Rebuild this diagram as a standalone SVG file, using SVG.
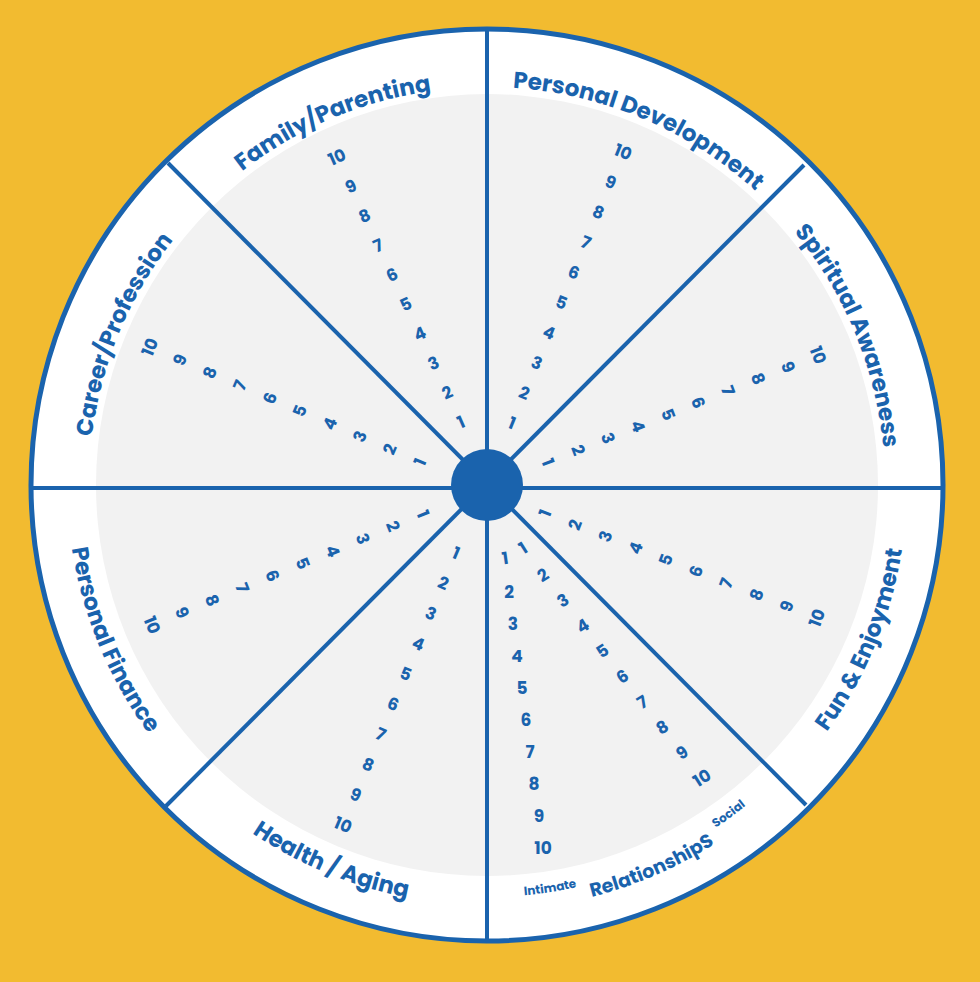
<svg xmlns="http://www.w3.org/2000/svg" width="980" height="982" viewBox="0 0 980 982">
<style>
.n{font-family:Poppins,"Inter","Noto Sans",sans-serif;font-weight:700;font-size:17px;fill:#1a63ad;text-anchor:middle;dominant-baseline:central}
.l{font-family:Poppins,"Inter","Noto Sans",sans-serif;font-weight:700;font-size:23px;fill:#1a63ad;text-anchor:middle}
.r{font-family:Poppins,"Inter","Noto Sans",sans-serif;font-weight:700;font-size:19px;fill:#1a63ad;text-anchor:middle}
.s{font-family:Poppins,"Inter","Noto Sans",sans-serif;font-weight:700;font-size:12px;fill:#1a63ad;text-anchor:middle}
.ln{stroke:#1a63ad;stroke-width:4;fill:none}
</style>
<defs>
<path id="cw" d="M 89 485 A 398 398 0 1 1 885 485 A 398 398 0 1 1 89 485"/>
<path id="ccw" d="M 67 485 A 420 420 0 1 0 907 485 A 420 420 0 1 0 67 485"/>
<path id="ccw2" d="M 75 485 A 412 412 0 1 0 899 485 A 412 412 0 1 0 75 485"/>
<path id="ccw3" d="M 62 485 A 425 425 0 1 0 912 485 A 425 425 0 1 0 62 485"/>
</defs>
<rect width="980" height="982" fill="#f2bb30"/>
<circle cx="487" cy="485" r="456" fill="#fff" stroke="#1a63ad" stroke-width="5"/>
<circle cx="487" cy="485" r="391" fill="#f2f2f2"/>
<g id="connectors">
<line class="ln" x1="487" y1="31" x2="487" y2="939"/>
<line class="ln" x1="33" y1="488" x2="941" y2="488"/>
<line class="ln" x1="168" y1="163" x2="806" y2="805"/>
<line class="ln" x1="804" y1="165" x2="166" y2="806"/>
</g>
<circle id="hub" cx="487" cy="485" r="36" fill="#1a63ad"/>
<g id="labels">
<text class="l"><textPath href="#cw" startOffset="465">Family/Parenting</textPath></text>
<text class="l"><textPath href="#cw" startOffset="785">Personal Development</textPath></text>
<text class="l"><textPath href="#cw" startOffset="1093.9">Spiritual Awareness</textPath></text>
<text class="l"><textPath href="#cw" startOffset="156.3">Career/Profession</textPath></text>
<text class="l"><textPath href="#ccw" startOffset="1154.6">Fun &amp; Enjoyment</textPath></text>
<text class="l"><textPath href="#ccw" startOffset="164.9">Personal Finance</textPath></text>
<text class="l"><textPath href="#ccw" startOffset="494.8">Health / Aging</textPath></text>
<text class="r"><textPath href="#ccw3" startOffset="840.4">RelationshipS</textPath></text>
<text class="s"><textPath href="#ccw2" startOffset="711">Intimate</textPath></text>
<text class="s"><textPath href="#ccw2" startOffset="908">Social</textPath></text>
</g>
<g id="family">
<text class="n" transform="translate(461,422) rotate(-24)">1</text>
<text class="n" transform="translate(447.2,392.6) rotate(-24)">2</text>
<text class="n" transform="translate(433.4,363.1) rotate(-24)">3</text>
<text class="n" transform="translate(419.7,333.7) rotate(-24)">4</text>
<text class="n" transform="translate(405.9,304.2) rotate(-24)">5</text>
<text class="n" transform="translate(392.1,274.8) rotate(-24)">6</text>
<text class="n" transform="translate(378.3,245.4) rotate(-24)">7</text>
<text class="n" transform="translate(364.6,215.9) rotate(-24)">8</text>
<text class="n" transform="translate(350.8,186.5) rotate(-24)">9</text>
<text class="n" transform="translate(337,157) rotate(-24)">10</text>
</g>
<g id="personal-development">
<text class="n" transform="translate(512,423) rotate(22)">1</text>
<text class="n" transform="translate(524.3,392.9) rotate(22)">2</text>
<text class="n" transform="translate(536.7,362.8) rotate(22)">3</text>
<text class="n" transform="translate(549,332.7) rotate(22)">4</text>
<text class="n" transform="translate(561.3,302.6) rotate(22)">5</text>
<text class="n" transform="translate(573.7,272.4) rotate(22)">6</text>
<text class="n" transform="translate(586,242.3) rotate(22)">7</text>
<text class="n" transform="translate(598.3,212.2) rotate(22)">8</text>
<text class="n" transform="translate(610.7,182.1) rotate(22)">9</text>
<text class="n" transform="translate(623,152) rotate(22)">10</text>
</g>
<g id="spiritual">
<text class="n" transform="translate(548,462) rotate(69)">1</text>
<text class="n" transform="translate(578,450.1) rotate(69)">2</text>
<text class="n" transform="translate(608,438.2) rotate(69)">3</text>
<text class="n" transform="translate(638,426.3) rotate(69)">4</text>
<text class="n" transform="translate(668,414.4) rotate(69)">5</text>
<text class="n" transform="translate(698,402.6) rotate(69)">6</text>
<text class="n" transform="translate(728,390.7) rotate(69)">7</text>
<text class="n" transform="translate(758,378.8) rotate(69)">8</text>
<text class="n" transform="translate(788,366.9) rotate(69)">9</text>
<text class="n" transform="translate(818,355) rotate(69)">10</text>
</g>
<g id="career">
<text class="n" transform="translate(420,462) rotate(-67)">1</text>
<text class="n" transform="translate(390,449.2) rotate(-67)">2</text>
<text class="n" transform="translate(360,436.4) rotate(-67)">3</text>
<text class="n" transform="translate(330,423.7) rotate(-67)">4</text>
<text class="n" transform="translate(300,410.9) rotate(-67)">5</text>
<text class="n" transform="translate(270,398.1) rotate(-67)">6</text>
<text class="n" transform="translate(240,385.3) rotate(-67)">7</text>
<text class="n" transform="translate(210,372.6) rotate(-67)">8</text>
<text class="n" transform="translate(180,359.8) rotate(-67)">9</text>
<text class="n" transform="translate(150,347) rotate(-67)">10</text>
</g>
<g id="fun">
<text class="n" transform="translate(545,513) rotate(-69)">1</text>
<text class="n" transform="translate(575.2,524.7) rotate(-69)">2</text>
<text class="n" transform="translate(605.4,536.3) rotate(-69)">3</text>
<text class="n" transform="translate(635.7,548) rotate(-69)">4</text>
<text class="n" transform="translate(665.9,559.7) rotate(-69)">5</text>
<text class="n" transform="translate(696.1,571.3) rotate(-69)">6</text>
<text class="n" transform="translate(726.3,583) rotate(-69)">7</text>
<text class="n" transform="translate(756.6,594.7) rotate(-69)">8</text>
<text class="n" transform="translate(786.8,606.3) rotate(-69)">9</text>
<text class="n" transform="translate(817,618) rotate(-69)">10</text>
</g>
<g id="finance">
<text class="n" transform="translate(423,514) rotate(68)">1</text>
<text class="n" transform="translate(392.9,526.3) rotate(68)">2</text>
<text class="n" transform="translate(362.8,538.7) rotate(68)">3</text>
<text class="n" transform="translate(332.7,551) rotate(68)">4</text>
<text class="n" transform="translate(302.6,563.3) rotate(68)">5</text>
<text class="n" transform="translate(272.4,575.7) rotate(68)">6</text>
<text class="n" transform="translate(242.3,588) rotate(68)">7</text>
<text class="n" transform="translate(212.2,600.3) rotate(68)">8</text>
<text class="n" transform="translate(182.1,612.7) rotate(68)">9</text>
<text class="n" transform="translate(152,625) rotate(68)">10</text>
</g>
<g id="health">
<text class="n" transform="translate(456,553) rotate(23)">1</text>
<text class="n" transform="translate(443.4,583.2) rotate(23)">2</text>
<text class="n" transform="translate(430.9,613.4) rotate(23)">3</text>
<text class="n" transform="translate(418.3,643.7) rotate(23)">4</text>
<text class="n" transform="translate(405.8,673.9) rotate(23)">5</text>
<text class="n" transform="translate(393.2,704.1) rotate(23)">6</text>
<text class="n" transform="translate(380.7,734.3) rotate(23)">7</text>
<text class="n" transform="translate(368.1,764.6) rotate(23)">8</text>
<text class="n" transform="translate(355.6,794.8) rotate(23)">9</text>
<text class="n" transform="translate(343,825) rotate(23)">10</text>
</g>
<g id="social">
<text class="n" transform="translate(523,548) rotate(-32)">1</text>
<text class="n" transform="translate(543,575) rotate(-32)">2</text>
<text class="n" transform="translate(562.9,600.4) rotate(-32)">3</text>
<text class="n" transform="translate(582.8,625.8) rotate(-32)">4</text>
<text class="n" transform="translate(602.6,651.1) rotate(-32)">5</text>
<text class="n" transform="translate(622.5,676.5) rotate(-32)">6</text>
<text class="n" transform="translate(642.4,701.9) rotate(-32)">7</text>
<text class="n" transform="translate(662.3,727.3) rotate(-32)">8</text>
<text class="n" transform="translate(682.1,752.6) rotate(-32)">9</text>
<text class="n" transform="translate(702,778) rotate(-32)">10</text>
</g>
<g id="intimate">
<text class="n" transform="translate(505,558) rotate(-8)">1</text>
<text class="n" transform="translate(509,592)">2</text>
<text class="n" transform="translate(513,624)">3</text>
<text class="n" transform="translate(517,656)">4</text>
<text class="n" transform="translate(522,688)">5</text>
<text class="n" transform="translate(526,720)">6</text>
<text class="n" transform="translate(530,752)">7</text>
<text class="n" transform="translate(534,784)">8</text>
<text class="n" transform="translate(539,816)">9</text>
<text class="n" transform="translate(543,848)">10</text>
</g>
</svg>
